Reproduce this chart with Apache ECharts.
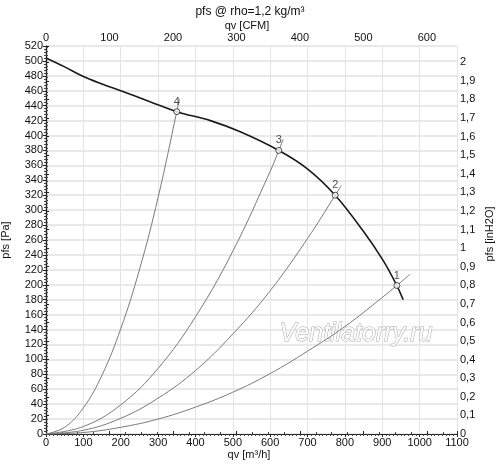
<!DOCTYPE html>
<html>
<head>
<meta charset="utf-8">
<script src="https://cdn.jsdelivr.net/npm/echarts@6/dist/echarts.min.js"></script>
<style>
  html, body { margin: 0; padding: 0; background: #fff; }
  #chart { width: 500px; height: 470px; }
</style>
</head>
<body>
<div id="chart"></div>
<script>
// fan curve, qv [m3/h] vs pfs [Pa]
const fanQ = [0, 50, 100, 150, 200, 280, 350, 440, 520, 623, 698, 774, 849, 903, 939, 956]
const fanP = [504, 492, 479, 469, 460, 445, 432, 420, 405, 380, 356, 320, 272, 232, 199, 180]

// system curves
const sys4Q = [0, 50, 100, 150, 200, 250, 300, 350, 357]
const sys4P = [0, 9, 35, 79, 141, 220, 317, 432, 449]
const sys3Q = [0, 100, 200, 300, 400, 500, 600, 623, 635]
const sys3P = [0, 10, 39, 88, 157, 245, 352, 380, 395]
const sys2Q = [0, 100, 200, 300, 400, 500, 600, 700, 774, 790]
const sys2P = [0, 5, 21, 48, 85, 134, 192, 262, 320, 333]
const sys1Q = [0, 100, 200, 300, 400, 500, 600, 700, 800, 900, 939, 974]
const sys1P = [0, 2, 9, 20, 36, 56, 81, 111, 144, 183, 199, 214]

// operating points
const opNames = ['1', '2', '3', '4']
const opQ = [939, 774, 623, 350]
const opP = [199, 320, 380, 432]

const qMax = 1100
const pMax = 520
const M3H_PER_CFM = 1.699
const PA_PER_INH2O = 249.09

const font = 'Liberation Sans, Arial, sans-serif'
const zip = (a, b) => a.map((v, i) => [v, b[i]])

const myChart = echarts.init(document.getElementById('chart'))

const axisCommon = {
    type: 'value',
    axisLine: { show: true, lineStyle: { color: '#222', width: 1.2 } },
    axisTick: { show: true, inside: false, length: 3, lineStyle: { color: '#222' } },
    minorTick: { show: true, length: 2, lineStyle: { color: '#444' } },
    axisLabel: { color: '#111', fontSize: 11, fontFamily: font, margin: 3, formatter: v => String(v) },
}

const sysLine = (q, p) => ({
    type: 'line',
    data: zip(q, p),
    smooth: 0.4,
    showSymbol: false,
    lineStyle: { color: '#7a7a7a', width: 1 },
    z: 2,
    silent: true,
})

const trimDec = (v, step) => {
    const r = Math.round(v / step) * step
    if (Math.abs(v - r) > 1e-6) return ''
    return String(Math.round(r * 10) / 10).replace('.', ',')
}

const option = {
    animation: false,
    backgroundColor: '#fff',
    grid: { left: 46, right: 43, top: 46, bottom: 36 },
    graphic: [
        { type: 'text', left: 'center', top: 6, style: { text: 'pfs @ rho=1,2 kg/m³', font: '12px ' + font, fill: '#111' } },
        { type: 'text', x: 247, y: 20, style: { text: 'qv [CFM]', font: '11px ' + font, fill: '#111', align: 'center' } },
        { type: 'text', x: 249, y: 449, style: { text: 'qv [m³/h]', font: '11px ' + font, fill: '#111', align: 'center' } },
        { type: 'text', x: 6, y: 240, rotation: Math.PI / 2, style: { text: 'pfs [Pa]', font: '11px ' + font, fill: '#111', align: 'center', verticalAlign: 'middle' } },
        { type: 'text', x: 490, y: 234, rotation: Math.PI / 2, style: { text: 'pfs [inH2O]', font: '11px ' + font, fill: '#111', align: 'center', verticalAlign: 'middle' } },
        {
            type: 'text', x: 356, y: 334, z: 1,
            style: {
                text: 'Ventilatorry.ru', font: 'italic 25px ' + font,
                fill: '#fdfdfd', stroke: '#a9a9a9', lineWidth: 1,
                align: 'center', verticalAlign: 'middle',
            },
        },
    ],
    xAxis: [
        {
            ...axisCommon,
            position: 'bottom',
            min: 0, max: qMax, interval: 100,
            minorTick: { ...axisCommon.minorTick, splitNumber: 10 },
            splitLine: { show: true, lineStyle: { color: '#e4e4e4', width: 1 } },
        },
        {
            ...axisCommon,
            position: 'top',
            min: 0, max: qMax / M3H_PER_CFM, interval: 100,
            minorTick: { ...axisCommon.minorTick, splitNumber: 4 },
            axisLabel: { ...axisCommon.axisLabel, showMaxLabel: false },
            splitLine: { show: false },
        },
    ],
    yAxis: [
        {
            ...axisCommon,
            position: 'left',
            min: 0, max: pMax, interval: 20,
            minorTick: { ...axisCommon.minorTick, splitNumber: 5 },
            splitLine: { show: true, lineStyle: { color: '#e2e2e2', width: 1.5 } },
        },
        {
            ...axisCommon,
            position: 'right',
            min: 0, max: pMax / PA_PER_INH2O, interval: 0.1,
            minorTick: { ...axisCommon.minorTick, splitNumber: 5 },
            axisLabel: { ...axisCommon.axisLabel, showMaxLabel: false, formatter: v => trimDec(v, 0.1) },
            splitLine: { show: false },
        },
    ],
    series: [
        sysLine(sys4Q, sys4P),
        sysLine(sys3Q, sys3P),
        sysLine(sys2Q, sys2P),
        sysLine(sys1Q, sys1P),
        {
            type: 'line',
            data: zip(fanQ, fanP),
            smooth: 0.35,
            showSymbol: false,
            lineStyle: { color: '#1a1a1a', width: 1.6 },
            z: 3,
            silent: true,
        },
        {
            type: 'scatter',
            data: opNames.map((n, i) => ({ name: n, value: [opQ[i], opP[i]] })),
            symbol: 'circle',
            symbolSize: 6,
            itemStyle: { color: '#fff', borderColor: '#222', borderWidth: 1 },
            label: {
                show: true, position: 'top', distance: 1,
                formatter: p => p.name,
                fontSize: 11, fontFamily: font, color: '#222',
            },
            z: 4,
            silent: true,
        },
    ],
}

myChart.setOption(option)
</script>
</body>
</html>
